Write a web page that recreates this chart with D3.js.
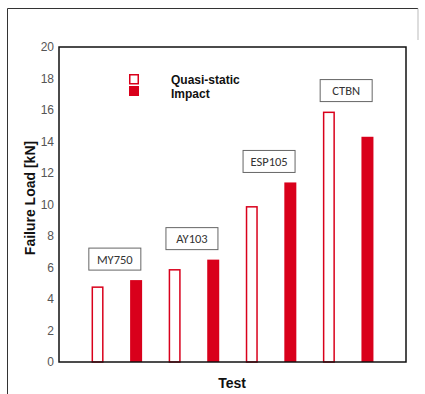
<!DOCTYPE html>
<html>
<head>
<meta charset="utf-8">
<script src="https://cdn.jsdelivr.net/npm/d3@7"></script>
<style>
  html, body { margin: 0; padding: 0; background: #fff; }
  svg { display: block; }
</style>
</head>
<body>
<svg id="chart" width="425" height="394"></svg>
<script>
const materials = ["MY750", "AY103", "ESP105", "CTBN"];
const quasiStatic = [4.8, 5.9, 9.9, 15.9];
const impact = [5.2, 6.5, 11.4, 14.3];
const seriesNames = ["Quasi-static", "Impact"];
const yTicks = [0, 2, 4, 6, 8, 10, 12, 14, 16, 18, 20];
const yLabel = "Failure Load [kN]";
const xLabel = "Test";

(function () {
const red = "#d9001b";
const svg = d3.select("#chart");

const mLeft = 59, mRight = 406, mTop = 47, mBottom = 362;

// outer frame
svg.append("line").attr("x1", 7.5).attr("x2", 418).attr("y1", 8.5).attr("y2", 8.5).attr("stroke", "#333").attr("stroke-width", 1);
svg.append("line").attr("x1", 7.5).attr("x2", 7.5).attr("y1", 8.5).attr("y2", 394).attr("stroke", "#333").attr("stroke-width", 1);
svg.append("line").attr("x1", 418).attr("x2", 418).attr("y1", 8.5).attr("y2", 40).attr("stroke", "#bbb").attr("stroke-width", 1);

const slots = [];
materials.forEach(m => { slots.push(m + "|q"); slots.push(m + "|i"); });

const x = d3.scalePoint().domain(slots).range([mLeft, mRight]).padding(1);
const y = d3.scaleLinear().domain([0, 20]).range([mBottom, mTop]);

const barW = 12;

// y axis
const yAxis = svg.append("g").attr("transform", `translate(${mLeft},0)`)
  .call(d3.axisLeft(y).tickValues(yTicks).tickSize(0).tickPadding(5).tickFormat(d3.format("d")));
yAxis.select(".domain").remove();
yAxis.selectAll("text").attr("font-family", "Liberation Sans, Arial, sans-serif").attr("font-size", 12).attr("fill", "#555");

// bars
const data = [];
materials.forEach((m, i) => {
  data.push({ key: m + "|q", v: quasiStatic[i], filled: false });
  data.push({ key: m + "|i", v: impact[i], filled: true });
});

svg.append("g").selectAll("rect").data(data).join("rect")
  .attr("x", d => x(d.key) - barW / 2 + (d.filled ? 0 : 0.75))
  .attr("width", d => d.filled ? barW : barW - 1.5)
  .attr("y", d => y(d.v) + (d.filled ? 0 : 0.75))
  .attr("height", d => mBottom - y(d.v) - (d.filled ? 0 : 0.75))
  .attr("fill", d => d.filled ? red : "#fff")
  .attr("stroke", d => d.filled ? "none" : red)
  .attr("stroke-width", 1.5);

// plot frame
svg.append("rect").attr("x", mLeft).attr("y", mTop).attr("width", mRight - mLeft).attr("height", mBottom - mTop)
  .attr("fill", "none").attr("stroke", "#111").attr("stroke-width", 1.5);

// material label boxes
const labelFont = "Carlito, 'Open Sans', 'Liberation Sans', sans-serif";
const boxW = 52, boxH = 22;
materials.forEach((m, i) => {
  const cx = (x(m + "|q") + x(m + "|i")) / 2 - 2;
  const topVal = Math.max(quasiStatic[i], impact[i]);
  const boxBottom = y(topVal) - 10;
  const g = svg.append("g");
  g.append("rect").attr("x", cx - boxW / 2).attr("y", boxBottom - boxH)
    .attr("width", boxW).attr("height", boxH)
    .attr("fill", "#fff").attr("stroke", "#666").attr("stroke-width", 1);
  g.append("text").text(m)
    .attr("x", cx).attr("y", boxBottom - boxH / 2 + 4.5)
    .attr("font-family", labelFont).attr("font-size", 12.5).attr("fill", "#333")
    .attr("text-anchor", "middle");
});

// legend
const lx = 129, ly = 74;
svg.append("rect").attr("x", lx + 0.75).attr("y", ly + 0.75).attr("width", 8.5).attr("height", 9)
  .attr("fill", "#fff").attr("stroke", red).attr("stroke-width", 1.5);
svg.append("rect").attr("x", lx).attr("y", ly + 12).attr("width", 10).attr("height", 10).attr("fill", red);
svg.append("text").text(seriesNames[0]).attr("x", 171).attr("y", 83.5)
  .attr("font-family", "Liberation Sans, Arial, sans-serif").attr("font-weight", "bold").attr("font-size", 12).attr("fill", "#111");
svg.append("text").text(seriesNames[1]).attr("x", 171).attr("y", 97.5)
  .attr("font-family", "Liberation Sans, Arial, sans-serif").attr("font-weight", "bold").attr("font-size", 12).attr("fill", "#111");

// axis titles
svg.append("text").text(xLabel).attr("x", 232).attr("y", 388).attr("text-anchor", "middle")
  .attr("font-family", "Liberation Sans, Arial, sans-serif").attr("font-weight", "bold").attr("font-size", 14).attr("fill", "#111");
svg.append("text").text(yLabel).attr("transform", "translate(35,198) rotate(-90)").attr("text-anchor", "middle")
  .attr("font-family", "Liberation Sans, Arial, sans-serif").attr("font-weight", "bold").attr("font-size", 14).attr("fill", "#111");
})();
</script>
</body>
</html>
